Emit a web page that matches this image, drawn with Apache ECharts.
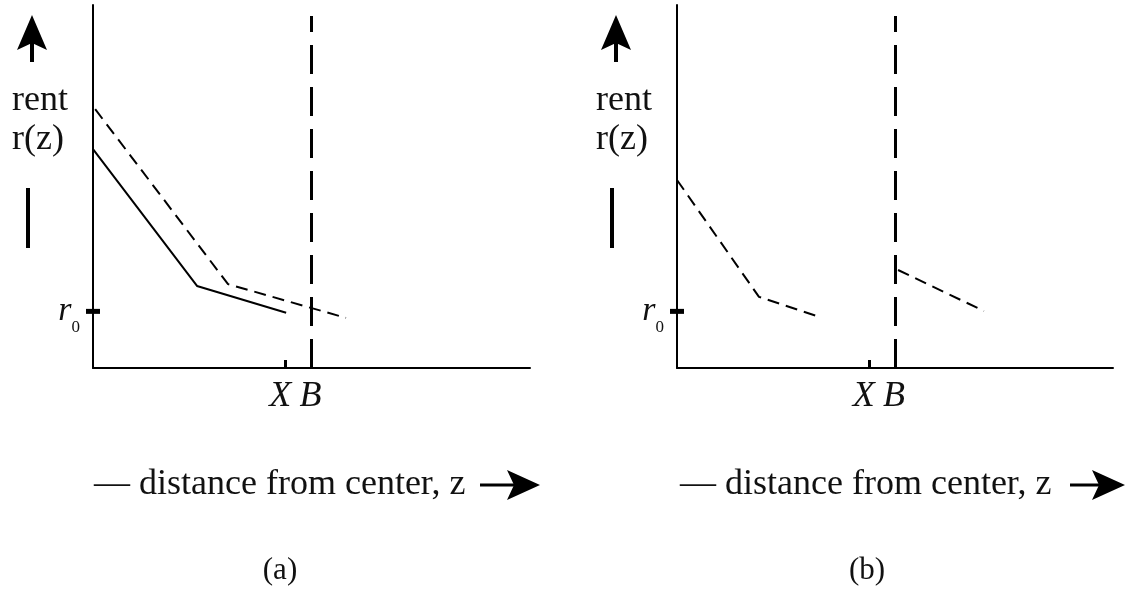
<!DOCTYPE html>
<html>
<head>
<meta charset="utf-8">
<script src="https://cdn.jsdelivr.net/npm/echarts@6/dist/echarts.min.js"></script>
<style>
html,body{margin:0;padding:0;background:#fff;}
#chart{width:1127px;height:592px;}
</style>
</head>
<body>
<div id="chart"></div>
<script>
// distance from center (z) and rent r(z), 0..100 on both axes
var solidZ_a = [0, 23.8, 44.2];
var solidR_a = [60.3, 22.6, 15.2];
var dashZ_a = [0.5, 30.9, 57.9];
var dashR_a = [71.3, 23.1, 13.8];

var dashZ_b1 = [0, 18.8, 32.1];
var dashR_b1 = [51.8, 19.6, 14.3];
var dashZ_b2 = [50.7, 70.4];
var dashR_b2 = [27.0, 15.7];

var tickZ = [44, 50];          // X and B on the z axis
var tickNames = ['X', 'B'];
var boundaryTop = 97;          // top of the dashed B line
var rZero = 15.6;              // r0 on the rent axis

var serif = 'Liberation Serif';
var chart = echarts.init(document.getElementById('chart'));

function zip(xs, ys){
    var out = [];
    for (var i = 0; i < xs.length; i++) out.push([xs[i], ys[i]]);
    return out;
}

function makeX(idx){
    return {
        type:'value', gridIndex:idx, min:0, max:100,
        splitLine:{show:false},
        axisLine:{show:true, onZero:false, lineStyle:{color:'#000', width:2}},
        axisTick:{show:true, customValues:[tickZ[0]], inside:true, length:8, lineStyle:{color:'#000', width:3}},
        axisLabel:{
            customValues:tickZ, margin:11,
            formatter:function(v){ return v === tickZ[0] ? '{x|' + tickNames[0] + '}' : '{b|' + tickNames[1] + '}'; },
            rich:{
                x:{fontFamily:serif, fontStyle:'italic', fontSize:36, color:'#111', padding:[0,10,0,0]},
                b:{fontFamily:serif, fontStyle:'italic', fontSize:36, color:'#111', padding:[0,2,0,0]}
            }
        }
    };
}

function makeY(idx){
    return {
        type:'value', gridIndex:idx, min:0, max:100,
        splitLine:{show:false},
        axisLine:{show:true, onZero:false, lineStyle:{color:'#000', width:2}},
        axisTick:{show:false},
        axisLabel:{
            customValues:[rZero], margin:13,
            formatter:function(){ return '{r|r}{s|0}'; },
            rich:{
                r:{fontFamily:serif, fontStyle:'italic', fontSize:34, color:'#111', lineHeight:50, verticalAlign:'middle'},
                s:{fontFamily:serif, fontSize:17, color:'#111', lineHeight:22, verticalAlign:'bottom'}
            }
        }
    };
}

function curve(idx, xs, ys, dashed){
    return {
        type:'line', xAxisIndex:idx, yAxisIndex:idx,
        data:zip(xs, ys), showSymbol:false, silent:true,
        lineStyle:{color:'#000', width:2, type:dashed ? [12, 7] : 'solid'}
    };
}

function boundary(idx){
    return {
        type:'line', xAxisIndex:idx, yAxisIndex:idx, data:[], silent:true,
        markLine:{
            symbol:'none', silent:true, label:{show:false},
            lineStyle:{color:'#000', width:3, type:[29, 13]},
            data:[[{coord:[tickZ[1], 0]}, {coord:[tickZ[1], boundaryTop]}]]
        }
    };
}

function rTick(idx){
    return {
        type:'scatter', xAxisIndex:idx, yAxisIndex:idx, clip:false, silent:true,
        symbol:'rect', symbolSize:[14, 5],
        itemStyle:{color:'#000', opacity:1},
        data:[[0, rZero]]
    };
}

function sideLabels(ax, bx){
    return [
        {type:'polygon', shape:{points:[[ax,15],[ax+15,50],[ax,43],[ax-15,50]]}, style:{fill:'#000'}},
        {type:'line', shape:{x1:ax, y1:43, x2:ax, y2:62}, style:{stroke:'#000', lineWidth:4}},
        {type:'text', x:ax+8, y:101, style:{text:'rent', font:'36px "Liberation Serif"', fill:'#111', align:'center', verticalAlign:'middle'}},
        {type:'text', x:ax+6, y:140, style:{text:'r(z)', font:'36px "Liberation Serif"', fill:'#111', align:'center', verticalAlign:'middle'}},
        {type:'line', shape:{x1:bx, y1:188, x2:bx, y2:248}, style:{stroke:'#000', lineWidth:4}}
    ];
}

function bottomLabels(tx, a0, a1, cap, cx){
    return [
        {type:'text', x:tx, y:485, style:{text:'\u2014 distance from center, z', font:'36px "Liberation Serif"', fill:'#111', align:'left', verticalAlign:'middle'}},
        {type:'line', shape:{x1:a0, y1:485, x2:a1 - 20, y2:485}, style:{stroke:'#000', lineWidth:3}},
        {type:'polygon', shape:{points:[[a1,485],[a1-33,470],[a1-26,485],[a1-33,500]]}, style:{fill:'#000'}},
        {type:'text', x:cx, y:571, style:{text:cap, font:'31px "Liberation Serif"', fill:'#111', align:'center', verticalAlign:'middle'}}
    ];
}

var option = {
    animation:false,
    backgroundColor:'#fff',
    grid:[
        {left:93, top:5, width:437, height:363},
        {left:677, top:5, width:436, height:363}
    ],
    xAxis:[makeX(0), makeX(1)],
    yAxis:[makeY(0), makeY(1)],
    series:[
        boundary(0),
        curve(0, solidZ_a, solidR_a, false),
        curve(0, dashZ_a, dashR_a, true),
        rTick(0),
        boundary(1),
        curve(1, dashZ_b1, dashR_b1, true),
        curve(1, dashZ_b2, dashR_b2, true),
        rTick(1)
    ],
    graphic:[].concat(
        sideLabels(32, 28),
        sideLabels(616, 612),
        bottomLabels(94, 480, 540, '(a)', 280),
        bottomLabels(680, 1070, 1125, '(b)', 867)
    )
};
chart.setOption(option);
</script>
</body>
</html>
